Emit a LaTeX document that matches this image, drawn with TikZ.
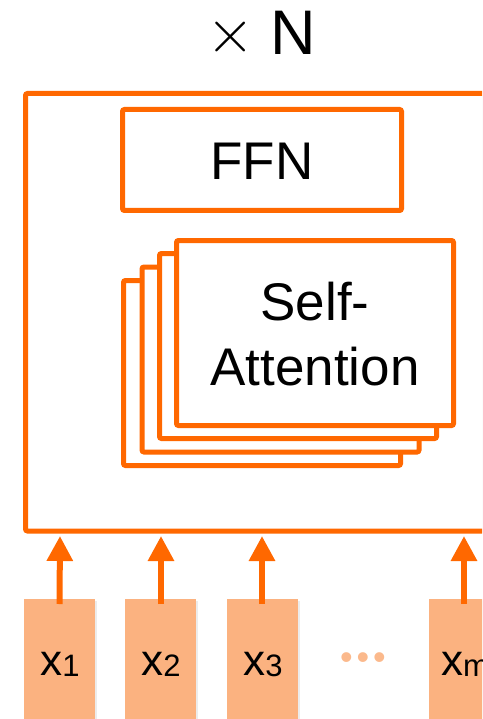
\documentclass[tikz,border=0pt]{standalone}
\usepackage{fontspec}
\setmainfont{Liberation Sans}
\newfontfamily\lmmath{Latin Modern Math}
\usetikzlibrary{arrows.meta,shadows}
\definecolor{orng}{RGB}{255,104,0}
\definecolor{inpfill}{RGB}{251,178,128}
\definecolor{dotc}{RGB}{251,185,140}
\tikzset{
  obox/.style={draw=orng, line width=5pt, fill=white, rounded corners=2pt,
    drop shadow={opacity=0.18, shadow xshift=1.5pt, shadow yshift=-2pt}},
  inbox/.style={fill=inpfill, draw=none, minimum width=71pt, minimum height=140pt,
    anchor=north, inner sep=0pt,
    drop shadow={opacity=0.15, shadow xshift=1.5pt, shadow yshift=-1.5pt}},
  uparrow/.style={draw=orng, line width=6pt, -{Triangle[width=25pt,length=25pt]}},
  bigtext/.style={font=\fontsize{53}{65}\selectfont, align=center, inner sep=0pt},
  intext/.style={font=\fontsize{44}{50}\selectfont, inner sep=0pt},
}
\newcommand{\subidx}[1]{{\fontsize{31}{35}\selectfont\raisebox{-1.5pt}{#1}}}
\begin{document}
\begin{tikzpicture}[x=1pt,y=-1pt]
\useasboundingbox (0,0) rectangle (482,719);
\clip (0,0) rectangle (482,719);
% title
\node[font=\lmmath\fontsize{62}{70}\selectfont, inner sep=0pt] (times) at (230.5,37.5) {×};
\node[font=\fontsize{63}{70}\selectfont, anchor=base, inner sep=0pt] (nn) at (293,55) {N};
% outer box
\path[obox] (25.5,93.5) rectangle (520,531);
% FFN
\path[obox] (122.5,109.5) rectangle (401.5,210.5);
\node[bigtext, anchor=base] (ffn) at (262,180) {FFN};
% stacked attention boxes
\path[obox] (123.5,280.5) rectangle (400.5,465.5);
\path[obox] (142,267) rectangle (419,452);
\path[obox] (159.5,253.5) rectangle (436.5,438.5);
\path[obox] (176.5,240.5) rectangle (453.5,425.5);
\node[bigtext, anchor=base] (att) at (315,385) {Self-\\Attention};
% inputs
\node[inbox] (b1) at (59.5,599) {};
\node[inbox] (b2) at (160.5,599) {};
\node[inbox] (b3) at (262.5,599) {};
\node[inbox] (bm) at (464.5,599) {};
\node[intext, anchor=base] (l1) at (60,675) {x\subidx{1}};
\node[intext, anchor=base] (l2) at (161,675) {x\subidx{2}};
\node[intext, anchor=base] (l3) at (263,675) {x\subidx{3}};
\node[intext, anchor=base west] (lm) at (441,675) {x\subidx{m}};
\node[font=\fontsize{36}{40}\selectfont, text=dotc, inner sep=0pt, anchor=base] (dots) at (363,669) {•\hspace{3.9pt}•\hspace{3.9pt}•};
% arrows
\coordinate (t1) at (60,536);
\coordinate (t2) at (161,536);
\coordinate (t3) at (262,536);
\coordinate (tm) at (464,536);
\draw[uparrow] ([yshift=-5pt]b1.north) -- (t1);
\draw[uparrow] ([yshift=-5pt]b2.north -| t2) -- (t2);
\draw[uparrow] ([yshift=-5pt]b3.north -| t3) -- (t3);
\draw[uparrow] ([yshift=-5pt]bm.north -| tm) -- (tm);
\end{tikzpicture}
\end{document}
